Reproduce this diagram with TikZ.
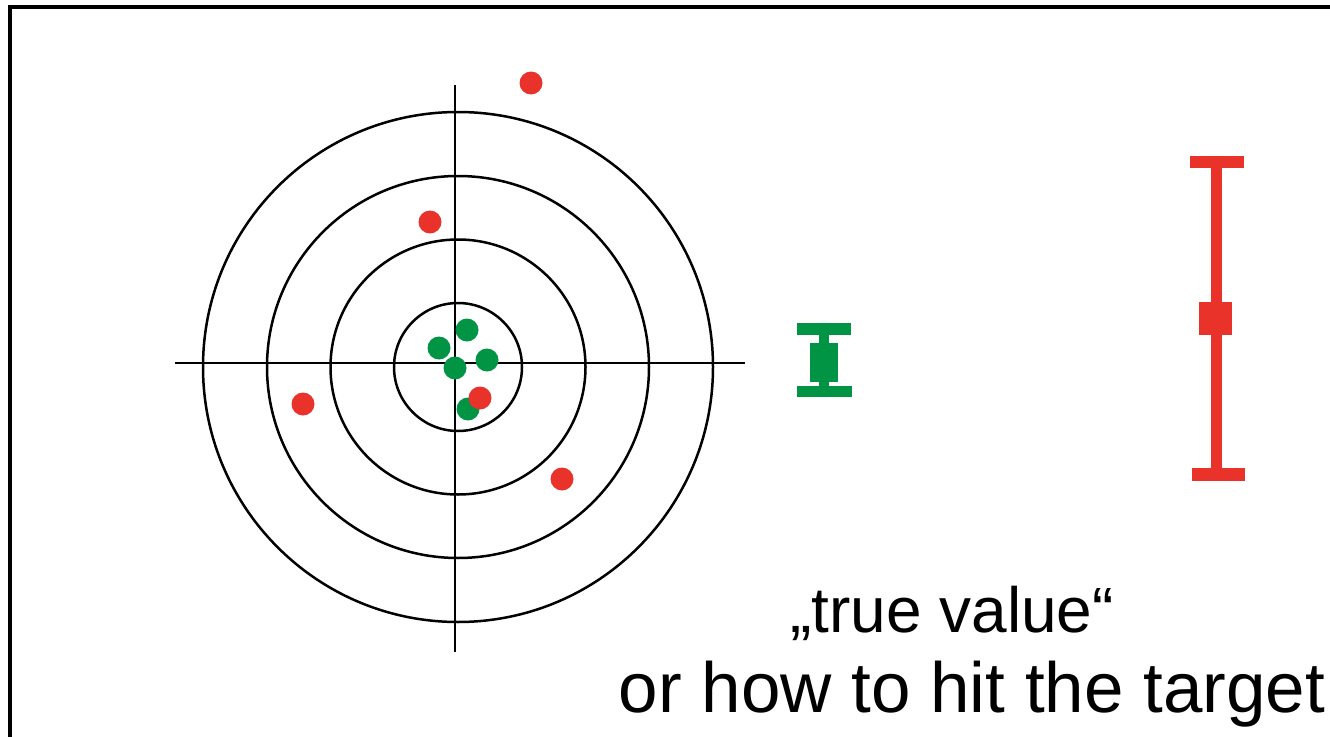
\documentclass[tikz,border=0pt]{standalone}
\usepackage{xcolor}
\usepackage{fontspec}
\setmainfont{Liberation Sans}
\usepackage{tikz}
\usetikzlibrary{positioning}

\definecolor{shotred}{RGB}{232,50,42}
\definecolor{shotgreen}{RGB}{0,148,68}

\begin{document}
\begin{tikzpicture}[x=0.02cm, y=-0.02cm, line width=0.5mm,
    redhit/.style={fill=shotred},
    greenhit/.style={fill=shotgreen}]
            \useasboundingbox (0,0) rectangle (1330,737);

            % Frame
            \draw[line width=0.7mm] (10,737) -- (10,7) -- (1330,7);

            % Rings
            \coordinate (mid) at (458,367);
            \foreach \r in {64,127.5,191,255}
                \draw (mid) circle (\r);

            % Cross hair
            \coordinate (top) at (455,85);
            \coordinate (bottom) at (455,652);
            \coordinate (left) at (175,363);
            \coordinate (right) at (745,363);
            \draw (top) -- (bottom);
            \draw (left) -- (right);

            % Precise shots
            \foreach \x/\y in {467/330, 439/348, 487/360, 455/368, 468/409}
                \fill[greenhit] (\x,\y) circle (11.5);

            % Scattered shots
            \foreach \x/\y in {531/83, 430/222, 303/404, 480/398, 562/479}
                \fill[redhit] (\x,\y) circle (11.5);

            % Small spread
            \begin{scope}[greenhit]
                \fill (797,323) rectangle (851,335);
                \fill (819,335) rectangle (829,386);
                \fill (810,343) rectangle (838,382);
                \fill (797,386) rectangle (852,397);
            \end{scope}

            % Large spread
            \begin{scope}[redhit]
                \fill (1190,156) rectangle (1244,168);
                \fill (1211,156) rectangle (1222,481);
                \fill (1199,302) rectangle (1232,335);
                \fill (1192,468) rectangle (1245,481);
            \end{scope}

            % Caption
            \node[anchor=base, inner sep=0pt] (truth) at (952,632)
                {\fontsize{36.4}{40}\selectfont „true value“};
            \node[anchor=base, inner sep=0pt] (howto) at (972,712)
                {\fontsize{40.4}{44}\selectfont or how to hit the target};
        \end{tikzpicture}
\end{document}
